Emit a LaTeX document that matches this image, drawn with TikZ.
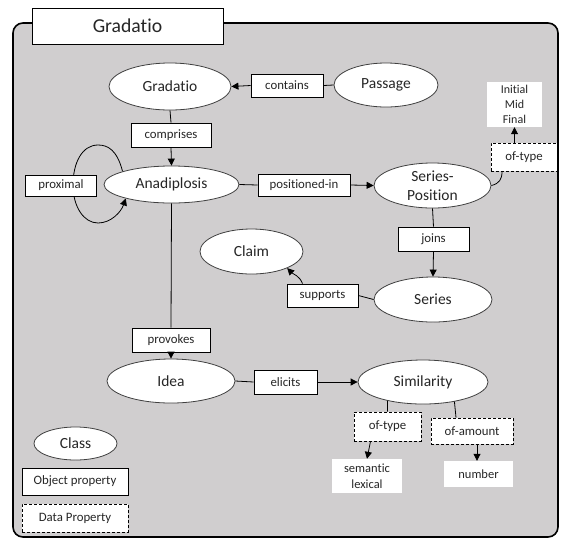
\documentclass[tikz,border=0pt]{standalone}
\usepackage{fontspec}
\setmainfont{Carlito}[Ligatures=NoCommon]
\usetikzlibrary{shapes.geometric,arrows.meta}
\pgfdeclarelayer{bottom}
\pgfdeclarelayer{background}
\pgfsetlayers{bottom,background,main}
\definecolor{panelgray}{HTML}{D0CECF}
\definecolor{inkgray}{HTML}{262626}
\tikzset{
  wh/.style 2 args={minimum width=#1pt, minimum height=#2pt},
  cls/.style={ellipse, draw=black!75, fill=white, line width=0.8pt, inner sep=0pt,
    text=inkgray, align=center, font=\fontsize{15.5}{19.5}\selectfont},
  objprop/.style={rectangle, draw=black, fill=white, line width=0.8pt, inner sep=0pt,
    text=inkgray, font=\fontsize{12.8}{15}\selectfont},
  dataprop/.style={objprop, dash pattern=on 3pt off 2pt},
  literal/.style={rectangle, fill=white, inner sep=0pt, align=center,
    text=inkgray, font=\fontsize{12.5}{16}\selectfont},
  link/.style={draw=black, line width=0.8pt},
  arr/.style={link, -{Triangle[width=7pt,length=7pt]}},
}
\begin{document}
\begin{tikzpicture}[x=1pt, y=-1pt]
\useasboundingbox (0,0) rectangle (561,539);

% panel
\begin{pgfonlayer}{bottom}
  \draw[fill=panelgray, line width=1.6pt, rounded corners=10pt] (13,23) rectangle (558,537);
\end{pgfonlayer}

% title tab
\node[objprop, wh={191}{36}, font=\fontsize{19.7}{23}\selectfont] (title) at (127.5,26) {Gradatio};

% classes
\node[cls, wh={122}{47}] (gradatio) at (170,86.5) {Gradatio};
\node[cls, wh={104}{44}] (passage) at (386,85) {Passage};
\node[cls, wh={135}{37}] (ana) at (171.5,184.5) {Anadiplosis};
\node[cls, wh={117}{45}] (seriespos) at (432.5,185.5) {Series-\\Position};
\node[cls, wh={118}{45}] (series) at (433,299.5) {Series};
\node[cls, wh={103}{45}] (claim) at (251.5,251.5) {Claim};
\node[cls, wh={128}{44}] (idea) at (171,381) {Idea};
\node[cls, wh={130}{44}] (similarity) at (423,382) {Similarity};

% object properties
\node[objprop, wh={72}{23}] (contains) at (287,85.5) {contains};
\node[objprop, wh={80}{24}] (comprises) at (171,135) {comprises};
\node[objprop, wh={71}{21}] (proximal) at (61,185.5) {proximal};
\node[objprop, wh={92}{22}] (posin) at (304,185) {positioned-in};
\node[objprop, wh={71}{24}] (joins) at (433.5,239) {joins};
\node[objprop, wh={71}{23}] (supports) at (322.5,295.5) {supports};
\node[objprop, wh={78}{24}] (provokes) at (171,340) {provokes};
\node[objprop, wh={63}{24}] (elicits) at (285.5,382) {elicits};

% data properties
\node[dataprop, wh={66}{28}] (oftypeA) at (524,157) {of-type};
\node[dataprop, wh={67}{29}] (oftypeB) at (387.5,426.5) {of-type};
\node[dataprop, wh={82}{26}] (ofamount) at (472,431) {of-amount};

% literal values
\node[literal, wh={55}{45}, font=\fontsize{12}{15}\selectfont] (positions) at (514.5,104.5) {Initial\\Mid\\Final};
\node[literal, wh={70}{34}] (kinds) at (367,476) {semantic\\lexical};
\node[literal, wh={69}{26}] (number) at (478.5,474) {number};

% legend
\node[cls, wh={83}{33}] (legclass) at (75.5,443.5) {Class};
\node[objprop, wh={106}{27}] (legobj) at (75,481.5) {Object property};
\node[dataprop, wh={106}{28}] (legdata) at (75,518) {Data Property};

% connectors
\draw[link] (passage.west) -- (contains.east);
\draw[arr]  (contains.west) -- (gradatio.east);
\draw[link] (gradatio.south) -- (comprises.north);
\draw[arr]  (comprises.south) -- (ana.north);
\draw[link] (ana.east) -- (posin.west);
\draw[arr]  (posin.east) -- (seriespos.west);
\draw[link] (seriespos.south) -- (joins.north);
\draw[arr]  (joins.south) -- (series.north);
\draw[link] (series.west) -- (supports.east);
\draw[arr]  ([xshift=-20pt]supports.north) .. controls +(-3,-8) and +(6,6) .. (claim.-25);
\draw[link] (seriespos.east) .. controls +(8,-2) and +(0,8) .. ([xshift=-22pt]oftypeA.south);
\draw[arr]  (oftypeA.north -| positions.south) -- (positions.south);
\draw[link] (ana.south) -- (provokes.north);
\draw[arr]  (provokes.south) -- (idea.north);
\draw[link] (idea.east) -- (elicits.west);
\draw[arr]  (elicits.east) -- (similarity.west);
\draw[link] (similarity.-152) -- (oftypeB.north);
\draw[link] (similarity.-32) -- ([xshift=-16pt]ofamount.north);
\draw[arr]  ([xshift=-17pt]oftypeB.south) -- (kinds.north);
\draw[arr]  ([xshift=5pt]ofamount.south) -- ([xshift=-1.5pt]number.north);

% self loop behind the proximal label
\begin{pgfonlayer}{background}
  \draw[arr] (ana.165) .. controls (117,150) and (108,145) .. (98,145)
    .. controls (82,145) and (73,163) .. (73,185)
    .. controls (73,207) and (84,223) .. (98,223)
    .. controls (111,223) and (121,212) .. (ana.197);
\end{pgfonlayer}
\end{tikzpicture}
\end{document}
